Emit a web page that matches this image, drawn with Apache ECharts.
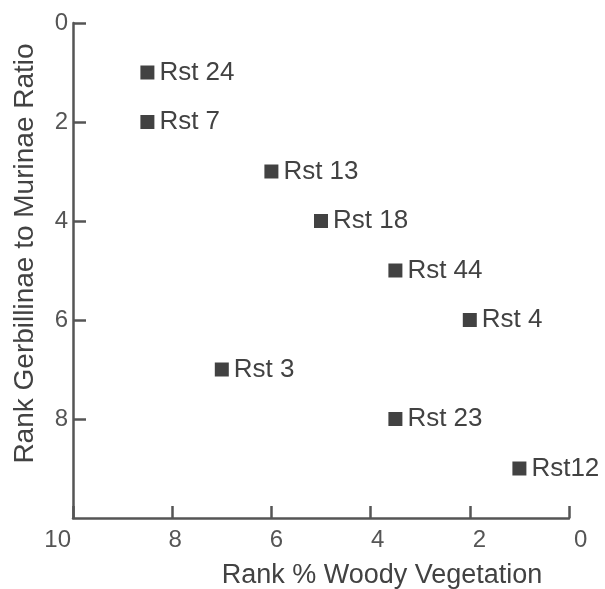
<!DOCTYPE html>
<html>
<head>
<meta charset="utf-8">
<script src="https://cdn.jsdelivr.net/npm/echarts@6/dist/echarts.min.js"></script>
<style>
  html, body { margin: 0; padding: 0; background: #fff; }
  #chart { width: 605px; height: 589px; }
</style>
</head>
<body>
<div id="chart"></div>
<script>
// Sites ranked by woody vegetation cover (x) and by Gerbillinae:Murinae ratio (y)
const sites = ['Rst 24', 'Rst 7', 'Rst 13', 'Rst 18', 'Rst 44', 'Rst 4', 'Rst 3', 'Rst 23', 'Rst12'];
const woodyRank = [8.5, 8.5, 6, 5, 3.5, 2, 7, 3.5, 1];
const ratioRank = [1, 2, 3, 4, 5, 6, 7, 8, 9];

const xTitle = 'Rank % Woody Vegetation';
const yTitle = 'Rank Gerbillinae to Murinae Ratio';

const ink = '#424242';
const axisInk = '#555555';
const font = '"Liberation Sans", Arial, sans-serif';

const points = sites.map((s, i) => [woodyRank[i], ratioRank[i], s]);

// small per-tick nudges for the x tick labels (left padding in px)
const xLabelRich = {
  p0: { padding: [0, 0, 0, 5] },
  p2: { padding: [0, 0, 0, 19] },
  p4: { padding: [0, 0, 0, 14] },
  p6: { padding: [0, 0, 0, 10] },
  p8: { padding: [0, 0, 0, 6] },
  p10: { padding: [0, 2, 0, 0] }
};

const chart = echarts.init(document.getElementById('chart'), null, { renderer: 'canvas' });
chart.setOption({
  animation: false,
  backgroundColor: '#ffffff',
  grid: { left: 73, right: 36, top: 23, bottom: 71, containLabel: false, outerBoundsMode: 'none' },
  xAxis: {
    type: 'value',
    position: 'bottom',
    min: 0, max: 10, interval: 2,
    inverse: true,
    name: xTitle,
    nameLocation: 'middle',
    nameGap: 44,
    nameTextStyle: { fontFamily: font, fontSize: 27, color: ink, padding: [0, 0, 0, 122] },
    axisLine: { show: true, onZero: false, lineStyle: { color: axisInk, width: 2.5 } },
    axisTick: { show: true, inside: true, length: 12, lineStyle: { color: axisInk, width: 2.5 } },
    axisLabel: {
      fontFamily: font, fontSize: 24, color: '#555555', margin: 10,
      alignMaxLabel: 'right', alignMinLabel: 'left',
      formatter: v => '{p' + v + '|' + v + '}',
      rich: Object.fromEntries(Object.entries(xLabelRich).map(([k, s]) =>
        [k, Object.assign({ fontFamily: font, fontSize: 24, color: '#555555' }, s)]))
    },
    splitLine: { show: false }
  },
  yAxis: {
    type: 'value',
    position: 'left',
    min: 0, max: 10, interval: 2,
    inverse: true,
    name: yTitle,
    nameLocation: 'middle',
    nameGap: 34,
    nameTextStyle: { fontFamily: font, fontSize: 28, color: ink, padding: [0, 0, 0, 34] },
    axisLine: { show: true, onZero: false, lineStyle: { color: axisInk, width: 2.5 } },
    axisTick: { show: true, inside: true, length: 13, lineStyle: { color: axisInk, width: 2.5 } },
    axisLabel: { fontFamily: font, fontSize: 24, color: '#555555', margin: 5, showMaxLabel: false },
    splitLine: { show: false }
  },
  series: [{
    type: 'scatter',
    data: points,
    symbol: 'rect',
    symbolSize: 14,
    itemStyle: { color: ink, opacity: 1 },
    label: {
      show: true,
      position: 'right',
      distance: 5,
      formatter: p => p.data[2],
      fontFamily: font,
      fontSize: 26,
      color: ink
    }
  }]
});
</script>
</body>
</html>
